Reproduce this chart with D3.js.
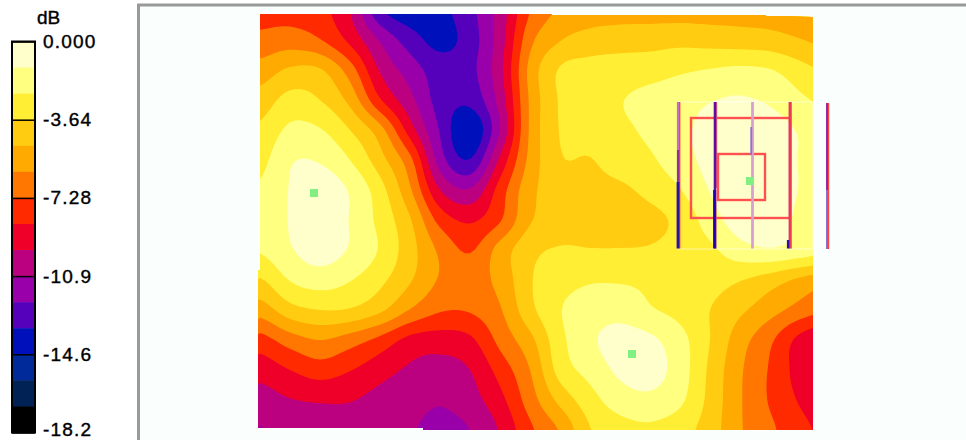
<!DOCTYPE html>
<html><head><meta charset="utf-8">
<script src="https://cdn.jsdelivr.net/npm/d3@7/dist/d3.min.js"></script>
<style>
html,body{margin:0;padding:0;background:#fff;overflow:hidden}
svg{display:block}
text{font-family:"Liberation Sans",Arial,sans-serif;fill:#000}
</style></head><body><svg id="c" width="966" height="440"></svg>
<script>
// Colour bar
const unitLabel = "dB";
const dbMin = -18.2;
const bandColors = ["#ffffcc","#ffff80","#ffee33","#ffcc11","#ffaa00","#ff7700","#ff2a00","#ee0028","#bb0080","#9900aa","#5500bb","#0011bb","#002a99","#002255","#000000"];
const tickValues = [0,-3.64,-7.28,-10.92,-14.56,-18.2];
const tickLabels = ["0.000","-3.64","-7.28","-10.9","-14.6","-18.2"];

// Field, in colour-band steps below 0 dB (1 step = 18.2/15 dB)
const stepsRow00 = [6.4,6.4,6.7,8.0,10.8,11.6,11.3,10.3,8.6,6.0,4.85,4.5,4.4,4.4,4.4,4.4,4.4,4.5,4.7,4.9];
const stepsRow01 = [5.7,5.5,5.95,7.25,9.1,10.5,11.3,10.5,8.5,5.3,4.05,3.6,3.45,3.4,3.3,3.4,3.5,3.6,3.95,4.3];
const stepsRow02 = [4.55,3.85,3.9,5.5,8.1,9.45,10.5,10.3,8.3,4.7,2.9,2.6,2.5,2.4,2.15,1.95,1.8,1.95,2.6,3.2];
const stepsRow03 = [3.55,2.65,3.0,4.3,6.9,8.7,10.4,10.7,8.6,4.85,2.9,2.4,2.05,1.7,1.4,1.05,0.9,1.15,1.8,2.3];
const stepsRow04 = [2.8,1.8,1.93,3.0,4.6,7.5,10.1,11.9,9.0,4.85,2.95,2.5,2.2,1.8,1.2,0.75,0.5,0.55,1.1,1.7];
const stepsRow05 = [2.3,1.1,1.1,2.0,3.6,5.7,9.5,10.95,7.8,4.7,3.1,3.05,2.5,2.15,1.4,0.7,0.3,0.4,1.05,1.5];
const stepsRow06 = [1.85,0.95,0.4,1.1,2.6,4.85,8.0,8.9,6.55,4.3,3.5,3.3,3.2,2.7,2.05,0.95,0.2,0.3,1.05,1.4];
const stepsRow07 = [1.5,0.95,0.3,1.05,2.3,3.9,6.35,7.15,6.1,4.1,3.6,3.5,3.5,3.3,2.7,1.5,0.5,0.4,1.25,1.8];
const stepsRow08 = [1.9,1.1,0.5,1.1,2.1,3.6,5.2,6.1,4.6,3.3,2.9,2.95,2.95,2.9,2.6,2.2,1.4,1.1,1.4,1.8];
const stepsRow09 = [3.1,1.95,1.55,1.95,2.75,3.9,5.1,5.4,4.7,3.1,2.4,2.1,2.1,2.2,2.35,2.6,2.95,3.5,4.2,4.7];
const stepsRow10 = [4.55,3.4,3.0,3.1,3.8,5.05,5.9,5.9,5.1,3.3,2.05,1.5,1.4,1.9,2.3,3.0,3.8,4.6,5.4,6.0];
const stepsRow11 = [6.4,5.5,5.0,5.5,6.3,7.3,7.5,7.2,5.7,4.3,2.3,1.2,0.6,0.8,1.65,3.0,4.55,5.8,7.3,8.0];
const stepsRow12 = [7.6,7.0,6.5,6.95,7.6,8.15,8.4,8.0,6.6,5.0,2.6,1.65,0.8,0.6,1.5,3.2,4.85,6.1,7.4,8.0];
const stepsRow13 = [8.45,8.05,7.9,7.95,8.3,8.6,8.9,8.4,7.3,5.5,3.7,2.4,1.5,1.25,1.8,3.3,4.9,6.1,7.1,7.7];
const stepsRow14 = [9.05,8.8,8.5,8.3,8.5,8.9,9.3,9.0,7.9,6.2,4.9,3.05,2.4,2.2,2.6,3.5,4.9,5.8,6.7,7.3];
const stepRows = [stepsRow00,stepsRow01,stepsRow02,stepsRow03,stepsRow04,stepsRow05,stepsRow06,stepsRow07,stepsRow08,stepsRow09,stepsRow10,stepsRow11,stepsRow12,stepsRow13,stepsRow14];

// Overlay, in plot units (x 0-570, y 0-420)
const probes = [[54,183],[372,344],[490,171]];
const squares = [[431,108,530,208],[458,144,505,190]];
const wireX = [418,455,492,529.5,567];

const svg = d3.select("#c");
const dbStep = -dbMin/15;

// panel frame
svg.append("rect").attr("x",138).attr("y",6).attr("width",828).attr("height",434).attr("fill","#fafffe");
svg.append("path").attr("d","M138.5,440V5H966").attr("fill","none").attr("stroke","#999").attr("stroke-width",3);

// plot scales
const x = d3.scaleLinear().domain([0,570]).range([260,830]);
const y = d3.scaleLinear().domain([0,420]).range([10,430]);

// field refined for smooth outlines
const f = 6, nc = stepRows[0].length, nr = stepRows.length;
const cr = (p0,p1,p2,p3,t)=>0.5*((2*p1)+(-p0+p2)*t+(2*p0-5*p1+4*p2-p3)*t*t+(-p0+3*p1-3*p2+p3)*t*t*t);
const clampI=(i,n)=>Math.max(0,Math.min(n-1,i));
const w=(nc-1)*f+1,h=(nr-1)*f+1;
const field=new Float64Array(w*h);
for(let j=0;j<h;j++){
  const gy=j/f,iy=Math.min(Math.floor(gy),nr-2),ty=gy-iy;
  const col=[];
  for(let c=0;c<nc;c++){
    col.push(cr(stepRows[clampI(iy-1,nr)][c],stepRows[iy][c],stepRows[iy+1][c],stepRows[clampI(iy+2,nr)][c],ty));
  }
  for(let i=0;i<w;i++){
    const gx=i/f,ix=Math.min(Math.floor(gx),nc-2),tx=gx-ix;
    field[j*w+i]=Math.min(11.99,cr(col[clampI(ix-1,nc)],col[ix],col[ix+1],col[clampI(ix+2,nc)],tx))*dbStep;
  }
}
const thresholds=d3.range(1,bandColors.length).map(d=>d*dbStep);
const contours=d3.contours().size([w,h]).thresholds(thresholds)(field);
const proj=d3.geoTransform({point(px,py){this.stream.point(x((px-0.5)/f*30),y((py-0.5)/f*30));}});
const path=d3.geoPath(proj);

const clipPts=[[260,14],[552,14],[552,15],[766,15],[766,16],[790,16],[813,17],[813,430],[423,430],[423,428],[258,428],[258,270],[260,270]];
svg.append("clipPath").attr("id","plot").append("polygon").attr("points",clipPts.join(" "));
const plot=svg.append("g").attr("clip-path","url(#plot)");
plot.append("rect").attr("x",250).attr("y",0).attr("width",600).attr("height",440).attr("fill",bandColors[0]);
plot.selectAll("path.band").data(contours).join("path").attr("class","band")
  .attr("d",path).attr("fill",(d,i)=>bandColors[i+1]);

// sensor overlay
const ov=svg.append("g");
ov.append("rect").attr("x",x(418)).attr("y",y(92)).attr("width",135).attr("height",147)
  .attr("fill","none").attr("stroke","#fff").attr("stroke-opacity",.55);
ov.selectAll("rect.sq").data(squares).join("rect").attr("class","sq")
  .attr("x",d=>x(d[0])).attr("y",d=>y(d[1])).attr("width",d=>x(d[2])-x(d[0])).attr("height",d=>y(d[3])-y(d[1]))
  .attr("fill","none").attr("stroke","#ff5050").attr("stroke-width",2.4);
const wireSegs=[
 [0,1.6,92,238.5,"#ff4040",1.6],[0,0,92,140,"#c070c8",2.2],[0,0,140,172,"#9030a8",2.2],[0,0,172,238.5,"#2a10a8",2.8],
 [1,1.5,92,178,"#f06070",1.4],[1,0,92,180,"#5a10a0",2.6],[1,0.5,180,238.5,"#c04090",2.2],[1,-.5,180,238.5,"#2000b0",2.8],
 [2,.5,92,238.5,"#d8a0d0",2.8],[2,-.8,117,145,"#9070d0",1.8],
 [3,1.4,92,238.5,"#ff4040",1.8],[3,0,92,238.5,"#d83878",1.8],[3,-1.4,230,238.5,"#2a10a8",2.4],
 [4,1.4,93,239,"#ff4040",1.6],[4,0,93,180,"#8818a0",1.8],[4,0,180,239,"#8060c8",1.8]];
ov.selectAll("line").data(wireSegs).join("line")
  .attr("x1",d=>x(wireX[d[0]])+d[1]).attr("x2",d=>x(wireX[d[0]])+d[1])
  .attr("y1",d=>y(d[2])).attr("y2",d=>y(d[3])).attr("stroke",d=>d[4]).attr("stroke-width",d=>d[5]);
ov.selectAll("rect.pr").data(probes).join("rect").attr("class","pr")
  .attr("x",d=>x(d[0])-4).attr("y",d=>y(d[1])-4).attr("width",8).attr("height",8).attr("fill","#80f080");

// colour bar
const cb=d3.scaleLinear().domain([0,dbMin]).range([41.5,432.5]);
const bar=svg.append("g");
bar.selectAll("rect").data(bandColors).join("rect")
  .attr("x",12).attr("width",23)
  .attr("y",(d,i)=>cb(-i*dbStep)).attr("height",(d,i)=>cb(-(i+1)*dbStep)-cb(-i*dbStep)+.5)
  .attr("fill",d=>d);
bar.append("rect").attr("x",12).attr("y",cb(0)).attr("width",23).attr("height",cb(dbMin)-cb(0)).attr("fill","none").attr("stroke","#000").attr("stroke-width",2);
const axis=d3.axisRight(cb).tickValues(tickValues).tickFormat((d,i)=>tickLabels[i]).tickSize(0).tickPadding(8);
const ag=svg.append("g").attr("transform","translate(35,0)").call(axis);
ag.select(".domain").remove();
ag.selectAll("text").attr("font-size",19).attr("letter-spacing",1.2).attr("stroke","#000").attr("stroke-width",.4).style("font-family",'"Liberation Sans",Arial,sans-serif');
ag.selectAll("text").filter((d,i)=>i===tickValues.length-1).attr("y",-3);
ag.selectAll("line").attr("x1",-23).attr("x2",0).attr("stroke","#000").attr("stroke-width",1.5);
svg.append("text").attr("x",37).attr("y",24).attr("font-size",19).attr("stroke","#000").attr("stroke-width",.4).text(unitLabel);
</script></body></html>
